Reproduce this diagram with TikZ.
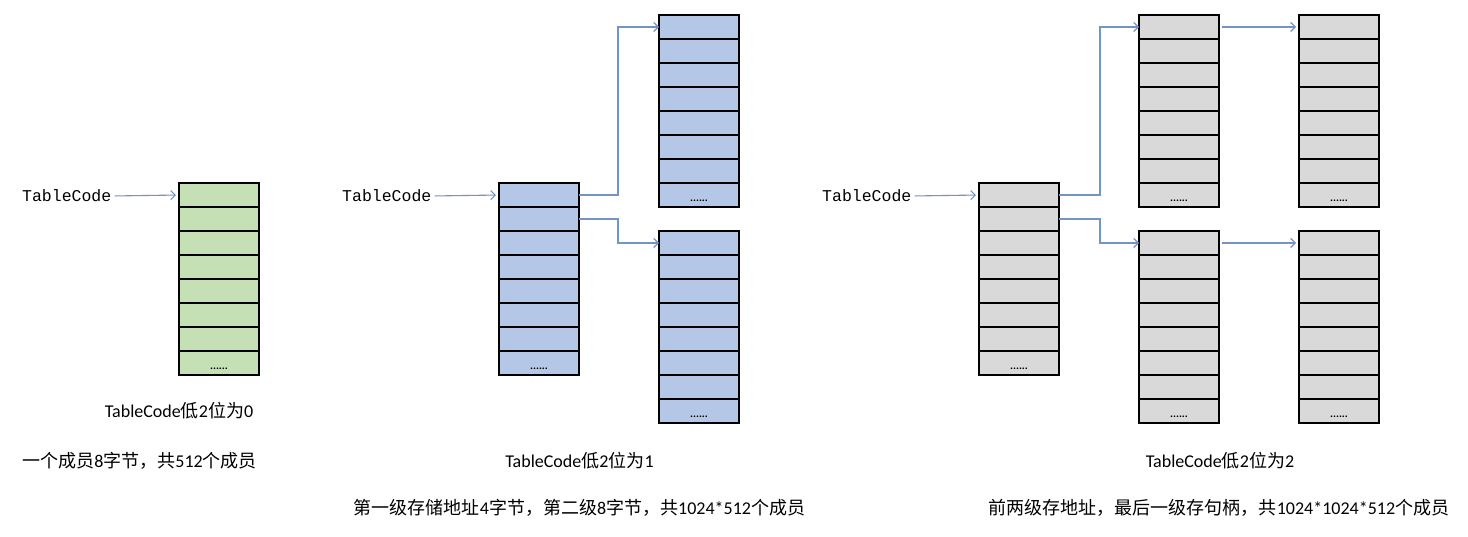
\documentclass[tikz,border=0pt]{standalone}
\usepackage{fontspec}
\setmainfont{Carlito}
\newfontfamily\cjkf{Noto Sans CJK SC}
\newfontfamily\monof{Liberation Mono}
\usetikzlibrary{arrows.meta}
\definecolor{cgreen}{HTML}{C5E0B4}
\definecolor{cblue}{HTML}{B4C7E7}
\definecolor{cgray}{HTML}{D9D9D9}
\definecolor{conncol}{HTML}{7295C4}
\newcommand\zh[1]{{\cjkf #1}}
\newcommand\memtab[4]{%
  \foreach \i in {1,...,8}{
    \node[cell, fill=#4] (#1\i) at (#2+40, #3+24*\i-12) {};
  }
  \node[dots] (#1dots) at (#2+40, #3+24*8-6) {......};
}
\tikzset{
  cell/.style={draw=black, line width=1.3pt, minimum width=80pt, minimum height=24pt, inner sep=0pt, outer sep=0pt},
  dots/.style={font=\bfseries\fontsize{11}{11}\selectfont, inner sep=0pt},
  conn/.style={draw=conncol, line width=1.1pt, -{Straight Barb[length=4.5pt,width=9pt]}},
  lab/.style={font=\fontsize{18}{20}\selectfont, inner sep=0pt},
  codelab/.style={font=\monof\fontsize{16.5}{18}\selectfont, inner sep=0pt, anchor=west},
}
\begin{document}
\begin{tikzpicture}[x=1pt, y=-1pt]
\useasboundingbox[fill=white] (0,0) rectangle (1468,536);

% Panel 1
\node[codelab] (tc1) at (22,196) {TableCode};
\memtab{a}{179}{183}{cgreen}
\draw[conn, shorten <=3pt, shorten >=3pt] (tc1.east) -- (a1.west);
\node[lab] (l1a) at (179,411) {TableCode\zh{低}2\zh{位为}0};
\node[lab] (l1b) at (139.5,461) {\zh{一个成员}8\zh{字节，共}512\zh{个成员}};

% Panel 2
\node[codelab] (tc2) at (342,196) {TableCode};
\memtab{b}{499}{183}{cblue}
\memtab{c}{659}{15}{cblue}
\memtab{d}{659}{231}{cblue}
\draw[conn, shorten <=3pt, shorten >=3pt] (tc2.east) -- (b1.west);
\draw[conn] (b1.east) -- ++(39,0) |- (c1.west);
\draw[conn] (b2.east) -- ++(39,0) |- (d1.west);
\node[lab] (l2a) at (579.5,461) {TableCode\zh{低}2\zh{位为}1};
\node[lab] (l2b) at (579.5,508) {\zh{第一级存储地址}4\zh{字节，第二级}8\zh{字节，共}1024*512\zh{个成员}};

% Panel 3
\node[codelab] (tc3) at (822,196) {TableCode};
\memtab{e}{979}{183}{cgray}
\memtab{f}{1139}{15}{cgray}
\memtab{g}{1139}{231}{cgray}
\memtab{h}{1299}{15}{cgray}
\memtab{k}{1299}{231}{cgray}
\draw[conn, shorten <=3pt, shorten >=3pt] (tc3.east) -- (e1.west);
\draw[conn] (e1.east) -- ++(41,0) |- (f1.west);
\draw[conn] (e2.east) -- ++(41,0) |- (g1.west);
\draw[conn, shorten <=3pt, shorten >=3pt] (f1.east) -- (h1.west);
\draw[conn, shorten <=3pt, shorten >=3pt] (g1.east) -- (k1.west);
\node[lab] (l3a) at (1220,461) {TableCode\zh{低}2\zh{位为}2};
\node[lab] (l3b) at (1219,508) {\zh{前两级存地址，最后一级存句柄，共}1024*1024*512\zh{个成员}};
\end{tikzpicture}
\end{document}
